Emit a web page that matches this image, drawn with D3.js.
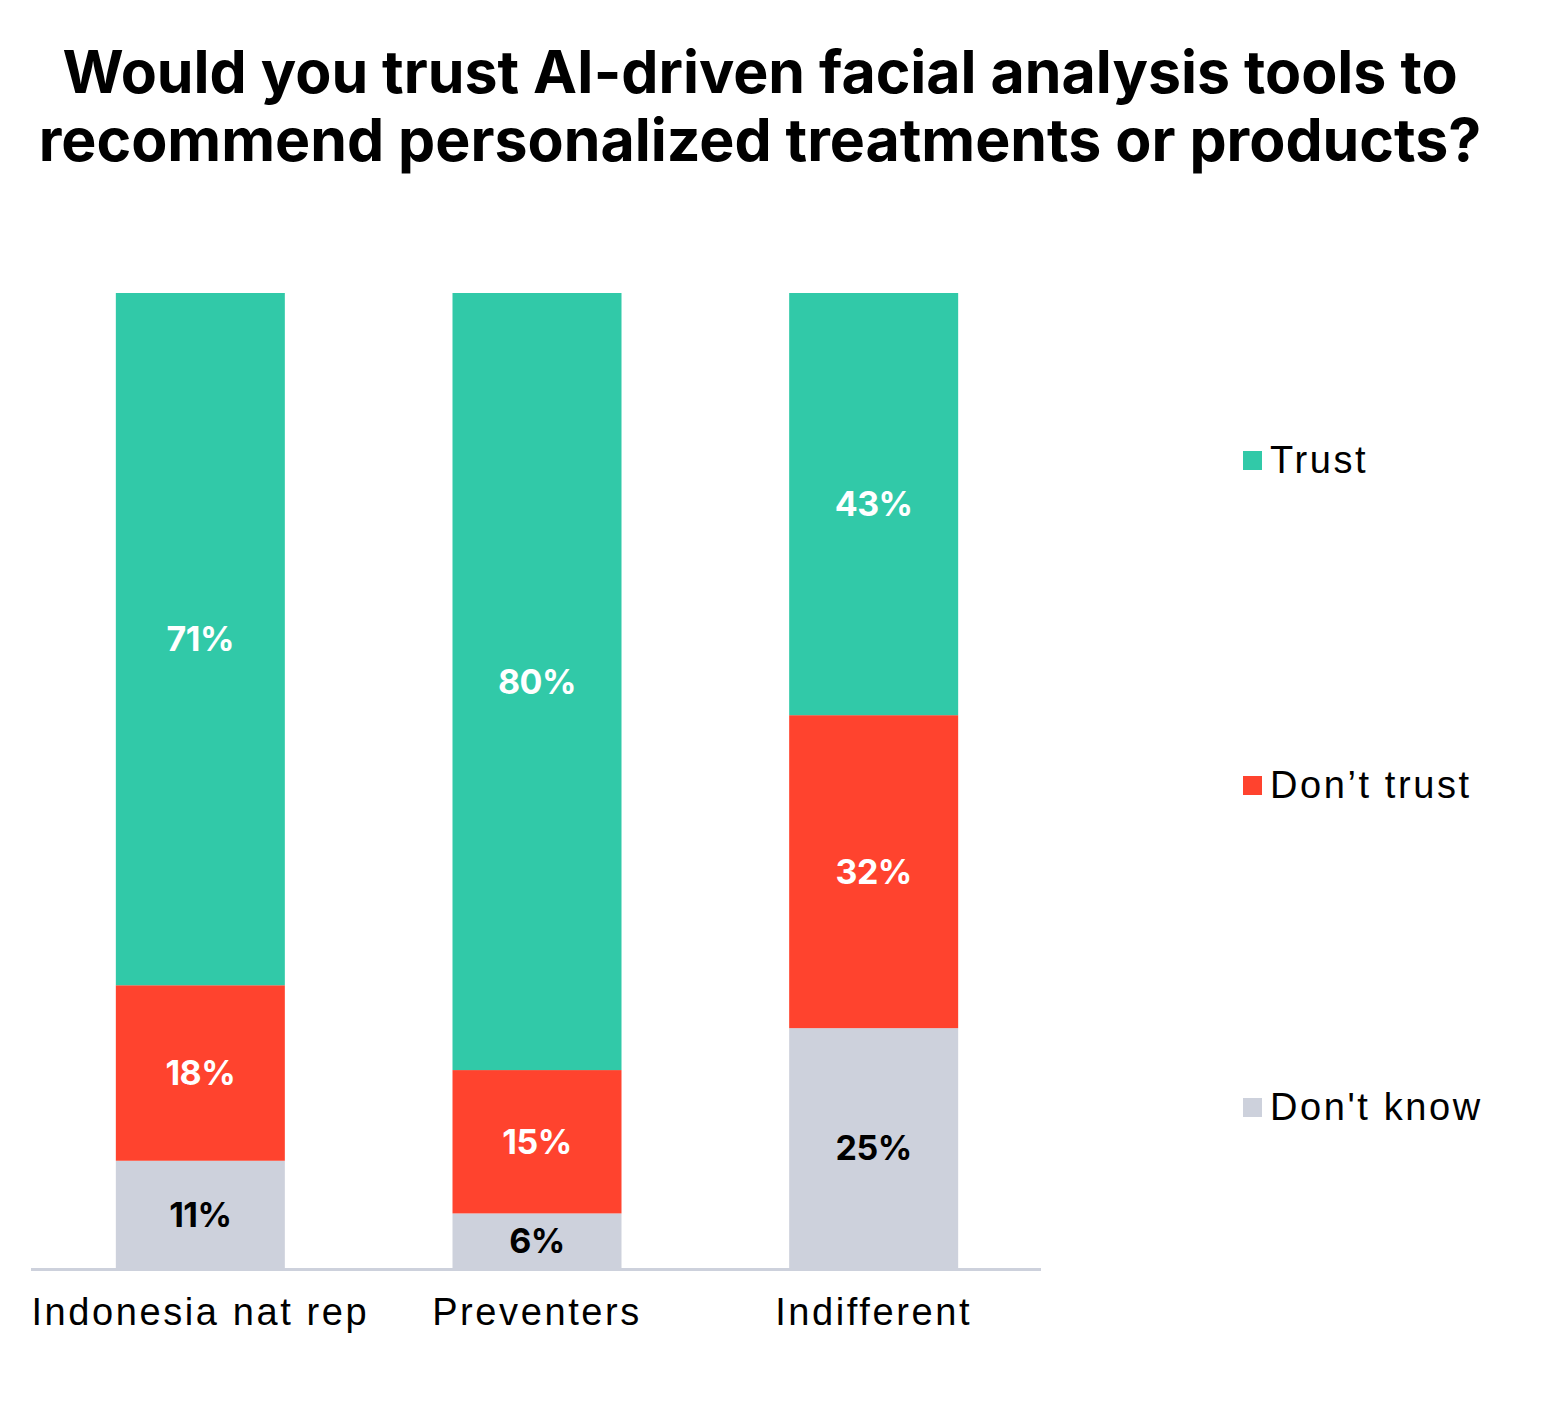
<!DOCTYPE html>
<html>
<head>
<meta charset="utf-8">
<script src="https://cdn.jsdelivr.net/npm/d3@7"></script>
<style>
  body { margin: 0; background: #fff; }
  svg { display: block; }
</style>
</head>
<body>
<div id="chart"></div>
<script>
// chart data
const groups = ['Indonesia nat rep', 'Preventers', 'Indifferent'];
const series = ['Don\'t know', 'Don’t trust', 'Trust'];
const dontKnow = [11, 5.6, 24.6];
const dontTrust = [18, 14.7, 32.1];
const trust = [71, 79.7, 43.3];
const colors = ['#cdd1dc', '#ff432e', '#31c9a8'];
const labelColors = ['#000', '#fff', '#fff'];

const width = 1556;
const height = 1405;

const svg = d3.select('#chart')
  .append('svg')
  .attr('width', width)
  .attr('height', height);

// Title
const title = svg.append('text')
  .attr('text-anchor', 'middle')
  .attr('font-family', 'Inter, "Liberation Sans", sans-serif')
  .attr('font-weight', 700)
  .attr('font-size', 59)
  .attr('fill', '#000');
title.append('tspan').attr('x', 760).attr('y', 93)
  .text('Would you trust AI-driven facial analysis tools to');
title.append('tspan').attr('x', 760).attr('y', 161)
  .text('recommend personalized treatments or products?');

// table rows for stacking
const rows = groups.map((g, i) => ({
  group: g,
  [series[0]]: dontKnow[i],
  [series[1]]: dontTrust[i],
  [series[2]]: trust[i],
}));

const stacked = d3.stack()
  .keys(series)
  .offset(d3.stackOffsetExpand)(rows);

const x = d3.scaleBand()
  .domain(groups)
  .range([32, 1042])
  .paddingInner(0)
  .paddingOuter(0);

const barW = 169;
const xc = (g) => x(g) + x.bandwidth() / 2;

const y = d3.scaleLinear().domain([0, 1]).range([1268, 293]);
const color = d3.scaleOrdinal().domain(series).range(colors);

const layers = svg.append('g')
  .selectAll('g')
  .data(stacked)
  .join('g')
  .attr('fill', (d) => color(d.key));

layers.selectAll('rect')
  .data((d) => d)
  .join('rect')
  .attr('x', (d) => xc(d.data.group) - barW / 2)
  .attr('y', (d) => y(d[1]))
  .attr('width', barW)
  .attr('height', (d) => y(d[0]) - y(d[1]));

// value labels
stacked.forEach((layer, li) => {
  const raw = [dontKnow, dontTrust, trust][li];
  svg.append('g')
    .selectAll('text')
    .data(layer)
    .join('text')
    .attr('x', (d) => xc(d.data.group))
    .attr('y', (d) => (y(d[0]) + y(d[1])) / 2)
    .attr('dy', '0.36em')
    .attr('text-anchor', 'middle')
    .attr('font-family', 'Inter, "Liberation Sans", sans-serif')
    .attr('font-weight', 700)
    .attr('font-size', 34)
    .attr('letter-spacing', -0.5)
    .attr('fill', labelColors[li])
    .text((d, i) => Math.round(raw[i]) + '%');
});

// baseline axis
svg.append('line')
  .attr('x1', 31).attr('x2', 1041)
  .attr('y1', 1269.5).attr('y2', 1269.5)
  .attr('stroke', '#cdd1dc')
  .attr('stroke-width', 3);

// category labels
svg.append('g')
  .selectAll('text')
  .data(groups)
  .join('text')
  .attr('x', (d) => xc(d))
  .attr('y', 1325)
  .attr('text-anchor', 'middle')
  .attr('font-family', '"Liberation Sans", Arial, sans-serif')
  .attr('font-size', 38)
  .attr('letter-spacing', 2.6)
  .attr('fill', '#000')
  .text((d) => d);

// legend (top to bottom: Trust, Don't trust, Don't know)
const legendY = [460, 785, 1107];
const legendItems = series.slice().reverse();
const legend = svg.append('g')
  .selectAll('g')
  .data(legendItems)
  .join('g')
  .attr('transform', (d, i) => `translate(1243, ${legendY[i]})`);

legend.append('rect')
  .attr('x', 0).attr('y', -9)
  .attr('width', 19).attr('height', 19)
  .attr('fill', (d) => color(d));

legend.append('text')
  .attr('x', 27)
  .attr('y', 0)
  .attr('dy', '0.35em')
  .attr('font-family', '"Liberation Sans", Arial, sans-serif')
  .attr('font-size', 38)
  .attr('letter-spacing', 2.6)
  .attr('fill', '#000')
  .text((d) => d);
</script>
</body>
</html>
